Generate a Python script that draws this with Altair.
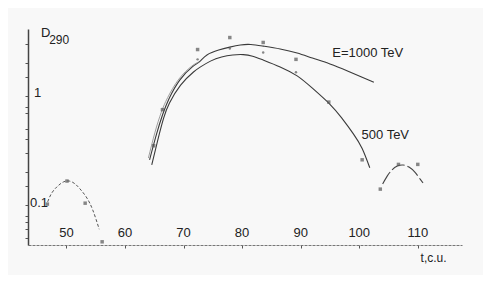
import altair as alt
import pandas as pd

# ---- data ----
# E = 1000 TeV curve
t_1000 = [64.2, 65.4, 66.45, 67.5, 69.35, 71.5, 72.75, 74.0, 76.0, 77.9, 79.7, 81.5, 83.6, 86.5, 89.4, 92.0, 95.0, 98.0, 100.5, 102.5]
d_1000 = [0.26, 0.45, 0.68, 0.94, 1.40, 1.85, 2.07, 2.38, 2.64, 2.81, 2.94, 2.97, 2.87, 2.70, 2.48, 2.23, 1.97, 1.70, 1.49, 1.34]
# 500 TeV curve
t_500 = [64.57, 65.6, 66.6, 67.6, 69.5, 71.7, 72.9, 74.6, 76.5, 78.4, 80.2, 81.8, 83.6, 86.5, 89.4, 92.0, 95.0, 97.0, 99.0, 100.5, 101.8]
d_500 = [0.233, 0.395, 0.628, 0.863, 1.26, 1.66, 1.85, 2.09, 2.28, 2.38, 2.40, 2.32, 2.14, 1.85, 1.53, 1.18, 0.84, 0.63, 0.45, 0.33, 0.22]
# short extra strand on the rising part
t_strand = [64.0, 65.1, 66.2, 67.3, 69.2, 71.4, 72.6]
d_strand = [0.27, 0.46, 0.71, 0.97, 1.43, 1.88, 2.05]
# early (left) dashed curve
t_left = [46.8, 47.5, 48.5, 49.5, 50.5, 51.5, 52.5, 53.5, 54.5, 55.6]
d_left = [0.107, 0.129, 0.149, 0.163, 0.166, 0.156, 0.137, 0.116, 0.090, 0.060]
# late (right) curve
t_right = [104.0, 104.8, 105.6, 106.5, 107.5, 108.5, 109.5, 110.5, 110.9]
d_right = [0.156, 0.185, 0.21, 0.228, 0.233, 0.223, 0.20, 0.17, 0.16]

# measured points: crosses and dots
t_cross = [46.75, 50.1, 53.2, 56.1, 64.9, 66.4, 72.4, 77.9, 83.6, 89.2, 94.8, 100.5, 103.6, 106.7, 110.0]
d_cross = [0.102, 0.166, 0.104, 0.046, 0.35, 0.75, 2.67, 3.44, 3.10, 2.17, 0.88, 0.26, 0.14, 0.236, 0.236]
t_dot = [72.4, 77.9, 83.6, 89.2]
d_dot = [2.17, 2.73, 2.51, 1.65]

x_ticks = [50, 60, 70, 80, 90, 100, 110]
y_ticks = [3, 2, 1.5, 1, 0.8, 0.7, 0.5, 0.4, 0.3, 0.2, 0.15, 0.1, 0.08, 0.07, 0.06, 0.05]
y_labels = ["1", "0.1"]
y_label_t = [44.46, 43.78]
y_label_vals = [1.06, 0.104]

annotations = ["E=1000 TeV", "500 TeV"]
ann_t = [95.4, 100.4]
ann_d = [2.48, 0.44]

FONT = "Liberation Sans"
INK = "#3a3a3a"

x_dom = [43.44, 117.55]
y_dom = [0.043, 4.12]

xs = alt.Scale(domain=x_dom, nice=False, zero=False)
ys = alt.Scale(type="log", domain=y_dom, nice=False)

curves = pd.concat([
    pd.DataFrame({"t": t_1000, "d": d_1000, "s": "1000"}),
    pd.DataFrame({"t": t_500, "d": d_500, "s": "500"}),
])
strand_df = pd.DataFrame({"t": t_strand, "d": d_strand})
left_df = pd.DataFrame({"t": t_left, "d": d_left})
right_df = pd.DataFrame({"t": t_right, "d": d_right})
cross_df = pd.DataFrame({"t": t_cross, "d": d_cross})
dot_df = pd.DataFrame({"t": t_dot, "d": d_dot})

xenc = alt.X("t:Q", scale=xs, axis=alt.Axis(values=x_ticks, labels=False, tickSize=3, title=None,
                                             grid=False, domainColor="#777", tickColor="#555",
                                             domainDash=[3, 1], domainWidth=1))
yenc = alt.Y("d:Q", scale=ys, axis=alt.Axis(values=y_ticks, labels=False, tickSize=3, title=None,
                                             grid=False, domainColor="#444", tickColor="#555",
                                             domainWidth=1.5))

main = alt.Chart(curves).mark_line(color=INK, strokeWidth=1.1, interpolate="natural").encode(
    x=xenc, y=yenc, detail="s:N")

strand = alt.Chart(strand_df).mark_line(color="#888", strokeWidth=0.8, interpolate="natural").encode(
    x="t:Q", y="d:Q")

left = alt.Chart(left_df).mark_line(color="#555", strokeWidth=1, strokeDash=[3, 2],
                                    interpolate="natural").encode(x="t:Q", y="d:Q")
right = alt.Chart(right_df).mark_line(color="#444", strokeWidth=1.1, strokeDash=[14, 3],
                                      interpolate="natural").encode(x="t:Q", y="d:Q")

crosses = alt.Chart(cross_df).mark_point(shape="square", filled=True, color="#555", size=12).encode(
    x="t:Q", y="d:Q")
dots = alt.Chart(dot_df).mark_point(shape="circle", filled=True, color="#555", size=6).encode(
    x="t:Q", y="d:Q")

# axis tick labels (drawn inside the plot, as in the original)
xlab_df = pd.DataFrame({"t": x_ticks, "d": [0.0554] * len(x_ticks), "lab": [str(v) for v in x_ticks]})
xlabels = alt.Chart(xlab_df).mark_text(font=FONT, fontSize=13, color="#222", align="center",
                                       baseline="middle").encode(x="t:Q", y="d:Q", text="lab:N")

ylab_df = pd.DataFrame({"t": y_label_t, "d": y_label_vals, "lab": y_labels})
ylabels = alt.Chart(ylab_df).mark_text(font=FONT, fontSize=13, color="#222", align="left",
                                       baseline="middle").encode(x="t:Q", y="d:Q", text="lab:N")

ann_df = pd.DataFrame({"t": ann_t, "d": ann_d, "lab": annotations})
anns = alt.Chart(ann_df).mark_text(font=FONT, fontSize=13, color="#222", align="left",
                                   baseline="middle").encode(x="t:Q", y="d:Q", text="lab:N")

dsym = alt.Chart(pd.DataFrame({"t": [45.67], "d": [3.75], "lab": ["D"]})).mark_text(
    font=FONT, fontSize=13, color="#222", align="left", baseline="middle").encode(x="t:Q", y="d:Q", text="lab:N")
dsub = alt.Chart(pd.DataFrame({"t": [47.05], "d": [3.3], "lab": ["290"]})).mark_text(
    font=FONT, fontSize=12, color="#222", align="left", baseline="middle").encode(x="t:Q", y="d:Q", text="lab:N")

xtitle = alt.Chart(pd.DataFrame({"t": [112.7], "d": [0.0325], "lab": ["t,c.u."]})).mark_text(
    font=FONT, fontSize=12, color="#222", align="center", baseline="middle").encode(x="t:Q", y="d:Q", text="lab:N")

chart = alt.layer(main, strand, left, right, crosses, dots, xlabels, ylabels, anns, dsym, dsub, xtitle).properties(
    width=434, height=216,
    autosize=alt.AutoSizeParams(type="none"),
    padding={"left": 20, "top": 21, "right": 21, "bottom": 30},
    background="#f8f8f8",
).configure_view(stroke=None)

chart.save("out.html", embed_options={"renderer": "svg", "actions": False})
